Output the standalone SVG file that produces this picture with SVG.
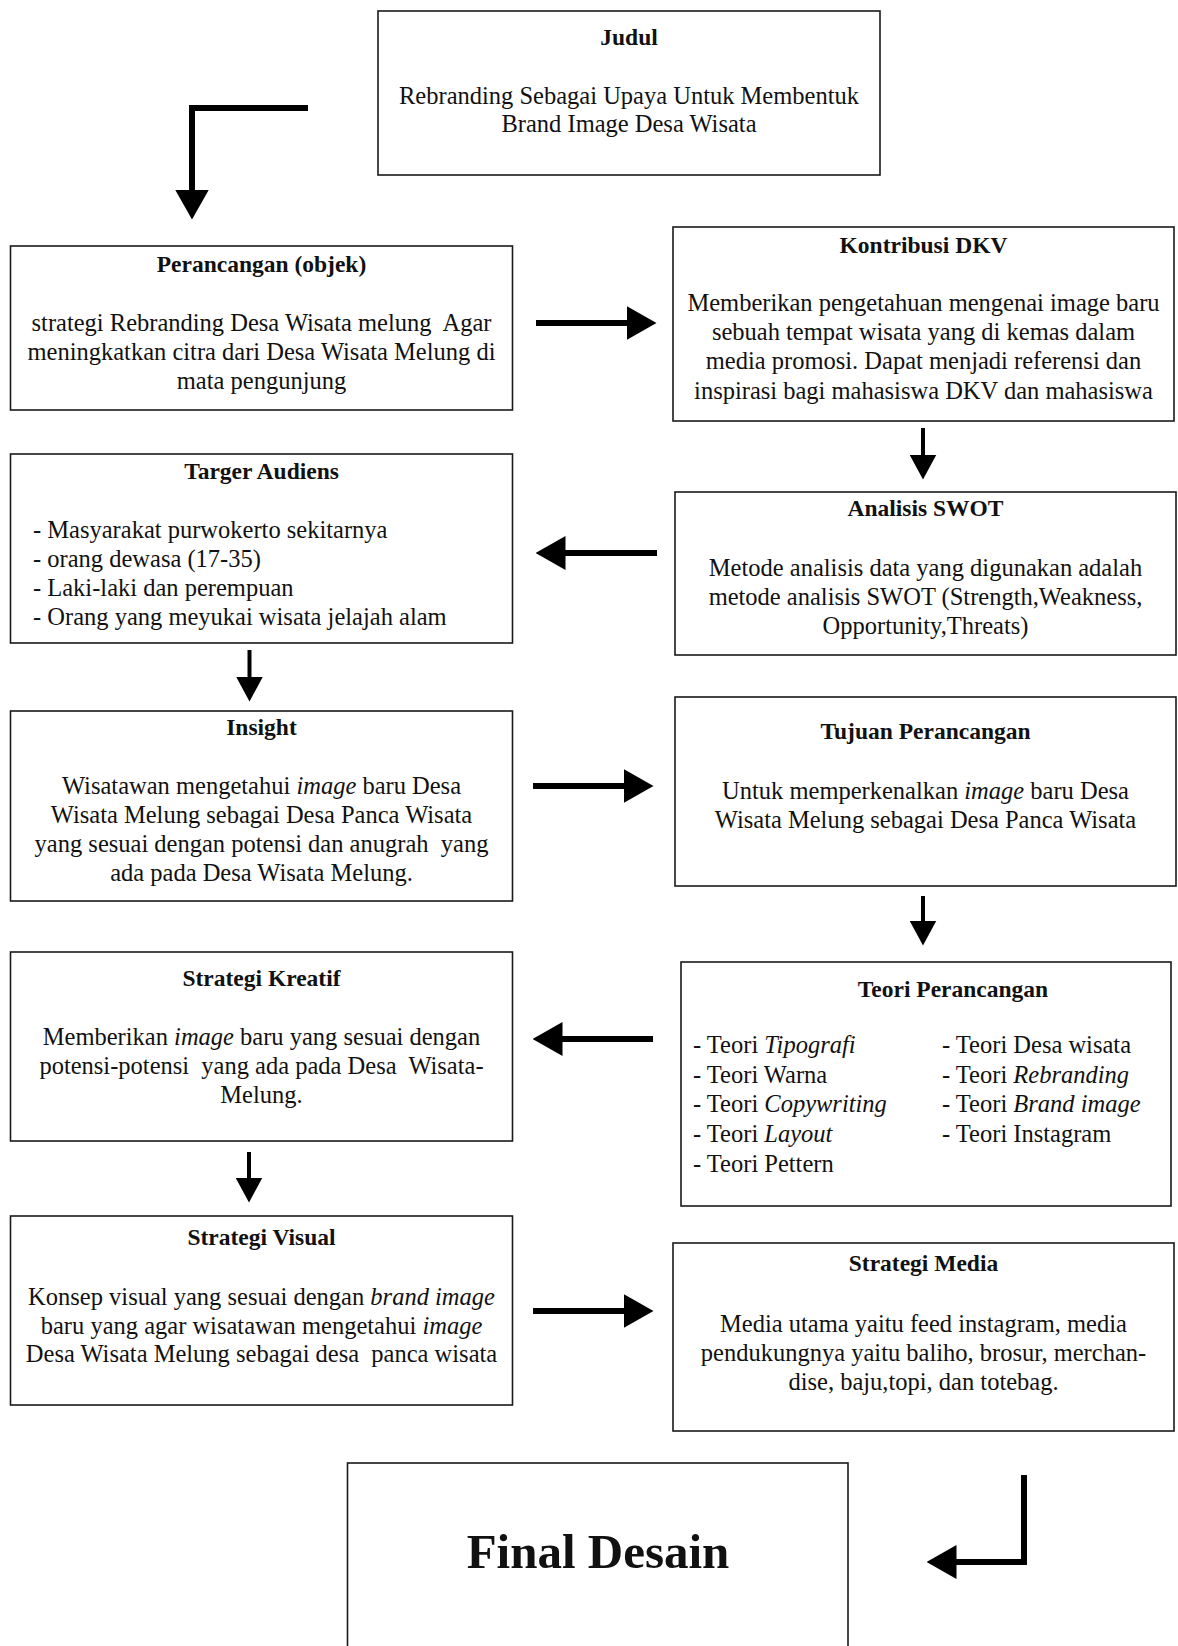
<svg xmlns="http://www.w3.org/2000/svg" width="1178" height="1646" viewBox="0 0 1178 1646">
<style>
.box{fill:#fff;stroke:#1a1a1a;stroke-width:1.6}
text{font-family:"Liberation Serif","Times New Roman",serif;fill:#111}
.t{font-size:23.5px;font-weight:bold;text-anchor:middle}
.b{font-size:24.5px;text-anchor:middle}
.l{font-size:24.5px}
.fin{font-size:49px;font-weight:bold;text-anchor:middle}
.w{stroke:#000;stroke-width:6;fill:none}
.n{stroke:#000;stroke-width:4;fill:none}
</style>
<defs>
<marker id="hw" markerUnits="userSpaceOnUse" markerWidth="30" markerHeight="34" viewBox="0 0 30 34" refX="0.5" refY="17" orient="auto">
<path d="M0,0 L30,17 L0,34 Z" fill="#000"/>
</marker>
<marker id="hn" markerUnits="userSpaceOnUse" markerWidth="25" markerHeight="27" viewBox="0 0 25 27" refX="0.5" refY="13.5" orient="auto">
<path d="M0,0 L25,13.5 L0,27 Z" fill="#000"/>
</marker>
</defs>
<rect width="1178" height="1646" fill="#fff"/>

<g id="connectors">
<path class="w" d="M308,108 H192 V190" marker-end="url(#hw)"/>
<line class="w" x1="536" y1="323" x2="627" y2="323" marker-end="url(#hw)"/>
<line class="n" x1="923" y1="428" x2="923" y2="455" marker-end="url(#hn)"/>
<line class="w" x1="657" y1="553" x2="565" y2="553" marker-end="url(#hw)"/>
<line class="n" x1="249.5" y1="650" x2="249.5" y2="677" marker-end="url(#hn)"/>
<line class="w" x1="533" y1="786" x2="624" y2="786" marker-end="url(#hw)"/>
<line class="n" x1="923" y1="896" x2="923" y2="921" marker-end="url(#hn)"/>
<line class="w" x1="653" y1="1039" x2="562" y2="1039" marker-end="url(#hw)"/>
<line class="n" x1="249" y1="1152" x2="249" y2="1178" marker-end="url(#hn)"/>
<line class="w" x1="533" y1="1311" x2="624" y2="1311" marker-end="url(#hw)"/>
<path class="w" d="M1024,1475 V1562 H956" marker-end="url(#hw)"/>
</g>

<g id="judul">
<rect class="box" x="378" y="11" width="502" height="164"/>
<text class="t" x="629" y="45">Judul</text>
<text class="b" x="629" y="104">Rebranding Sebagai Upaya Untuk Membentuk</text>
<text class="b" x="629" y="132">Brand Image Desa Wisata</text>
</g>

<g id="perancangan">
<rect class="box" x="10.5" y="246" width="502" height="164"/>
<text class="t" x="261.5" y="272">Perancangan (objek)</text>
<text class="b" x="261.5" y="331" xml:space="preserve">strategi Rebranding Desa Wisata melung  Agar</text>
<text class="b" x="261.5" y="360">meningkatkan citra dari Desa Wisata Melung di</text>
<text class="b" x="261.5" y="389">mata pengunjung</text>
</g>

<g id="kontribusi">
<rect class="box" x="673" y="227" width="501" height="194"/>
<text class="t" x="923.5" y="253">Kontribusi DKV</text>
<text class="b" x="923.5" y="311">Memberikan pengetahuan mengenai image baru</text>
<text class="b" x="923.5" y="340">sebuah tempat wisata yang di kemas dalam</text>
<text class="b" x="923.5" y="369">media promosi. Dapat menjadi referensi dan</text>
<text class="b" x="923.5" y="399">inspirasi bagi mahasiswa DKV dan mahasiswa</text>
</g>

<g id="swot">
<rect class="box" x="675" y="492" width="501" height="163"/>
<text class="t" x="925.5" y="516">Analisis SWOT</text>
<text class="b" x="925.5" y="576">Metode analisis data yang digunakan adalah</text>
<text class="b" x="925.5" y="605">metode analisis SWOT (Strength,Weakness,</text>
<text class="b" x="925.5" y="634">Opportunity,Threats)</text>
</g>

<g id="targer">
<rect class="box" x="10.5" y="454" width="502" height="189"/>
<text class="t" x="261.5" y="479">Targer Audiens</text>
<text class="l" x="33" y="538">- Masyarakat purwokerto sekitarnya</text>
<text class="l" x="33" y="567">- orang dewasa (17-35)</text>
<text class="l" x="33" y="596">- Laki-laki dan perempuan</text>
<text class="l" x="33" y="625">- Orang yang meyukai wisata jelajah alam</text>
</g>

<g id="insight">
<rect class="box" x="10.5" y="711" width="502" height="190"/>
<text class="t" x="261.5" y="735">Insight</text>
<text class="b" x="261.5" y="794">Wisatawan mengetahui <tspan font-style="italic">image</tspan> baru Desa</text>
<text class="b" x="261.5" y="823">Wisata Melung sebagai Desa Panca Wisata</text>
<text class="b" x="261.5" y="852" xml:space="preserve">yang sesuai dengan potensi dan anugrah  yang</text>
<text class="b" x="261.5" y="881">ada pada Desa Wisata Melung.</text>
</g>

<g id="tujuan">
<rect class="box" x="675" y="697" width="501" height="189"/>
<text class="t" x="925.5" y="739">Tujuan Perancangan</text>
<text class="b" x="925.5" y="799">Untuk memperkenalkan <tspan font-style="italic">image</tspan> baru Desa</text>
<text class="b" x="925.5" y="828">Wisata Melung sebagai Desa Panca Wisata</text>
</g>

<g id="teori">
<rect class="box" x="681" y="962" width="490" height="244"/>
<text class="t" x="953" y="997">Teori Perancangan</text>
<text class="l" x="693" y="1053">- Teori <tspan font-style="italic">Tipografi</tspan></text>
<text class="l" x="693" y="1083">- Teori Warna</text>
<text class="l" x="693" y="1112">- Teori <tspan font-style="italic">Copywriting</tspan></text>
<text class="l" x="693" y="1142">- Teori <tspan font-style="italic">Layout</tspan></text>
<text class="l" x="693" y="1172">- Teori Pettern</text>
<text class="l" x="942" y="1053">- Teori Desa wisata</text>
<text class="l" x="942" y="1083">- Teori <tspan font-style="italic">Rebranding</tspan></text>
<text class="l" x="942" y="1112">- Teori <tspan font-style="italic">Brand image</tspan></text>
<text class="l" x="942" y="1142">- Teori Instagram</text>
</g>

<g id="kreatif">
<rect class="box" x="10.5" y="952" width="502" height="189"/>
<text class="t" x="261.5" y="986">Strategi Kreatif</text>
<text class="b" x="261.5" y="1045">Memberikan <tspan font-style="italic">image</tspan> baru yang sesuai dengan</text>
<text class="b" x="261.5" y="1074" xml:space="preserve">potensi-potensi  yang ada pada Desa  Wisata-</text>
<text class="b" x="261.5" y="1103">Melung.</text>
</g>

<g id="visual">
<rect class="box" x="10.5" y="1216" width="502" height="189"/>
<text class="t" x="261.5" y="1245">Strategi Visual</text>
<text class="b" x="261.5" y="1305">Konsep visual yang sesuai dengan <tspan font-style="italic">brand image</tspan></text>
<text class="b" x="261.5" y="1334">baru yang agar wisatawan mengetahui <tspan font-style="italic">image</tspan></text>
<text class="b" x="261.5" y="1362" xml:space="preserve">Desa Wisata Melung sebagai desa  panca wisata</text>
</g>

<g id="media">
<rect class="box" x="673" y="1243" width="501" height="188"/>
<text class="t" x="923.5" y="1271">Strategi Media</text>
<text class="b" x="923.5" y="1332">Media utama yaitu feed instagram, media</text>
<text class="b" x="923.5" y="1361">pendukungnya yaitu baliho, brosur, merchan-</text>
<text class="b" x="923.5" y="1390">dise, baju,topi, dan totebag.</text>
</g>

<g id="final">
<rect class="box" x="347.5" y="1463" width="500.5" height="200"/>
<text class="fin" x="598" y="1568">Final Desain</text>
</g>
</svg>
